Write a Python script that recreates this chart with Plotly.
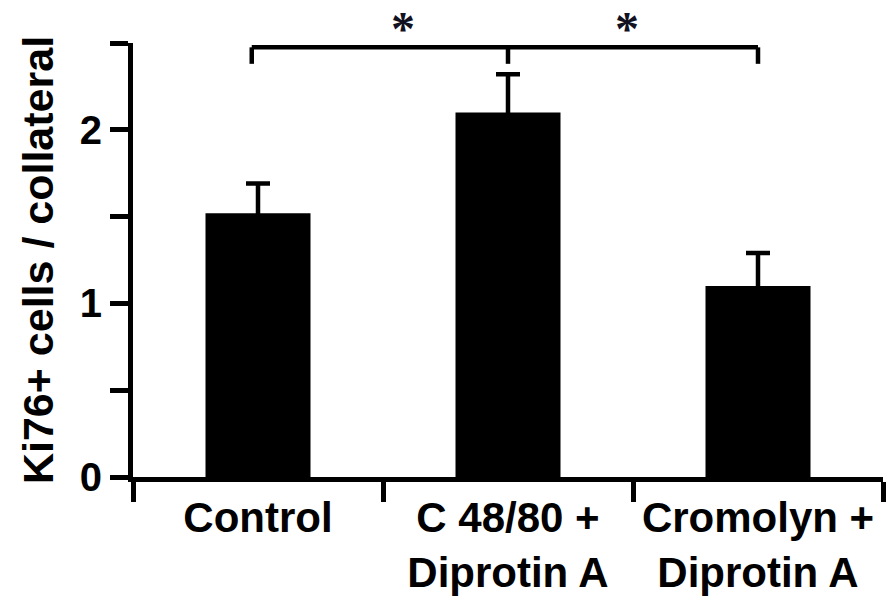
import plotly.graph_objects as go

# Group labels and measured means with SEM
categories = ["Control", "C 48/80 +<br>Diprotin A", "Cromolyn +<br>Diprotin A"]
means = [1.52, 2.10, 1.10]
sem = [0.17, 0.22, 0.19]

y_tick_vals = [0, 0.5, 1, 1.5, 2, 2.5]
y_tick_text = ["0", "", "1", "", "2", ""]

# Significance bracket: spans group 0 to group 2 with a drop at group 1
bracket_left, bracket_mid, bracket_right = -0.025, 1, 2
bracket_top, bracket_drop = 2.475, 2.38
star_x = [0.58, 1.475]
star_y_paper = 1.034

FONT = "Liberation Sans, Arial, sans-serif"

fig = go.Figure()
fig.add_trace(go.Bar(
    x=categories,
    y=means,
    width=0.42,
    marker=dict(color="black", line=dict(width=0)),
    error_y=dict(type="data", array=sem, color="black",
                 thickness=4.5, width=12),
    showlegend=False,
))

lw = 4.5
shapes = [
    dict(type="line", xref="x", yref="y", x0=bracket_left, x1=bracket_right,
         y0=bracket_top, y1=bracket_top, line=dict(color="black", width=lw)),
]
for bx in (bracket_left, bracket_mid, bracket_right):
    shapes.append(dict(type="line", xref="x", yref="y", x0=bx, x1=bx,
                       y0=bracket_top, y1=bracket_drop,
                       line=dict(color="black", width=lw)))

annotations = [
    dict(x=sx, y=star_y_paper, xref="x", yref="paper", text="<b>*</b>", showarrow=False,
         yanchor="middle",
         font=dict(family="Liberation Serif, Times New Roman, serif", size=48, color="#111122"))
    for sx in star_x
]

fig.update_layout(
    width=890, height=598,
    margin=dict(l=133, r=7, t=43, b=121, autoexpand=False),
    paper_bgcolor="white", plot_bgcolor="white",
    shapes=shapes,
    annotations=annotations,
    font=dict(family=FONT, color="black"),
)
fig.update_xaxes(
    type="category", range=[-0.5, 2.5], automargin=False,
    showline=True, linecolor="black", linewidth=5,
    ticks="outside", tickson="boundaries", ticklen=20, tickwidth=5, tickcolor="black",
    tickfont=dict(family=FONT, size=42, color="black", weight="bold"),
    showgrid=False, zeroline=False,
)
fig.update_yaxes(
    range=[0, 2.5], automargin=False,
    tickvals=y_tick_vals, ticktext=y_tick_text,
    showline=True, linecolor="black", linewidth=5,
    ticks="outside", ticklen=18, tickwidth=5, tickcolor="black",
    tickfont=dict(family=FONT, size=40, color="black", weight="bold"),
    title=dict(text="Ki76+ cells / collateral", standoff=14,
               font=dict(family=FONT, size=43, color="black", weight="bold")),
    showgrid=False, zeroline=False,
)

fig.write_html("out.html")
